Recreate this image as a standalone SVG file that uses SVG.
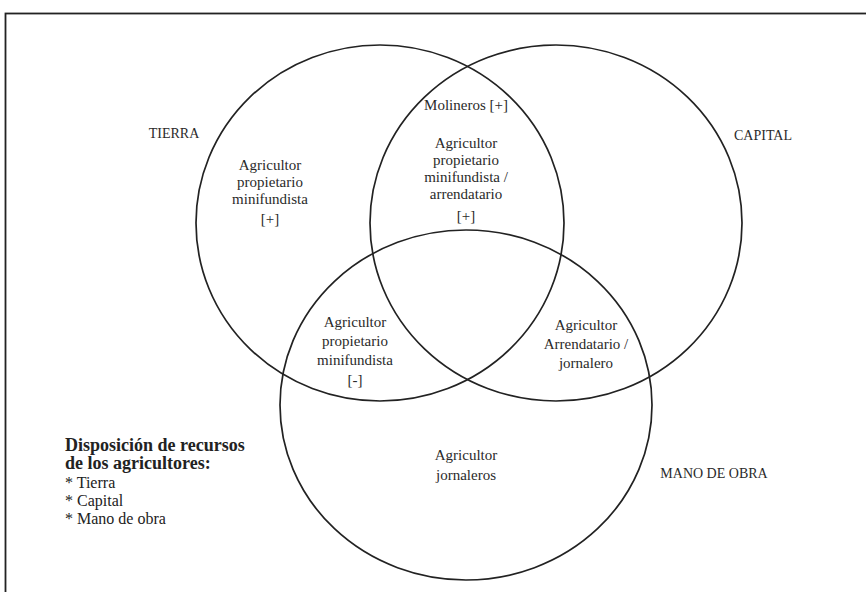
<svg xmlns="http://www.w3.org/2000/svg" width="866" height="592" viewBox="0 0 866 592">
<style>
.c{fill:none;stroke:#222;stroke-width:1.7}
.t{font-family:"Liberation Serif","Times New Roman",serif;font-size:15px;fill:#2a2a2a;text-anchor:middle}
.o{font-family:"Liberation Serif","Times New Roman",serif;font-size:14px;fill:#2a2a2a;text-anchor:middle}
.l{font-family:"Liberation Serif","Times New Roman",serif;font-size:16px;fill:#222}
.b{font-weight:bold;font-size:18px}
</style>
<rect x="0" y="0" width="866" height="592" fill="#fff"/>
<rect id="frame" x="5.5" y="13.5" width="900" height="620" fill="none" stroke="#222" stroke-width="1.8"/>
<g id="tierra">
<ellipse class="c" cx="380" cy="223" rx="184" ry="178"/>
<text class="o" x="174" y="138">TIERRA</text>
</g>
<g id="capital">
<ellipse class="c" cx="556" cy="223" rx="186" ry="178"/>
<text class="o" x="763" y="140">CAPITAL</text>
</g>
<g id="mano-de-obra">
<ellipse class="c" cx="466" cy="405" rx="186" ry="175"/>
<text class="o" x="714" y="478">MANO DE OBRA</text>
</g>
<g id="molineros">
<text class="t" x="466" y="110">Molineros [+]</text>
</g>
<g id="tierra-capital">
<text class="t" x="466" y="148">Agricultor</text>
<text class="t" x="466" y="165">propietario</text>
<text class="t" x="466" y="182">minifundista /</text>
<text class="t" x="466" y="199">arrendatario</text>
<text class="t" x="466" y="221">[+]</text>
</g>
<g id="solo-tierra">
<text class="t" x="270" y="170">Agricultor</text>
<text class="t" x="270" y="187">propietario</text>
<text class="t" x="270" y="204">minifundista</text>
<text class="t" x="270" y="224">[+]</text>
</g>
<g id="tierra-mano">
<text class="t" x="355" y="327">Agricultor</text>
<text class="t" x="355" y="346">propietario</text>
<text class="t" x="355" y="365">minifundista</text>
<text class="t" x="355" y="385">[-]</text>
</g>
<g id="capital-mano">
<text class="t" x="586" y="330">Agricultor</text>
<text class="t" x="586" y="349">Arrendatario /</text>
<text class="t" x="586" y="368">jornalero</text>
</g>
<g id="solo-mano">
<text class="t" x="466" y="460">Agricultor</text>
<text class="t" x="466" y="480">jornaleros</text>
</g>
<g id="leyenda">
<text class="l b" x="65" y="451">Disposición de recursos</text>
<text class="l b" x="65" y="469">de los agricultores:</text>
<text class="l" x="65" y="488">* Tierra</text>
<text class="l" x="65" y="506">* Capital</text>
<text class="l" x="65" y="524">* Mano de obra</text>
</g>
<g id="connectors"></g>
</svg>
